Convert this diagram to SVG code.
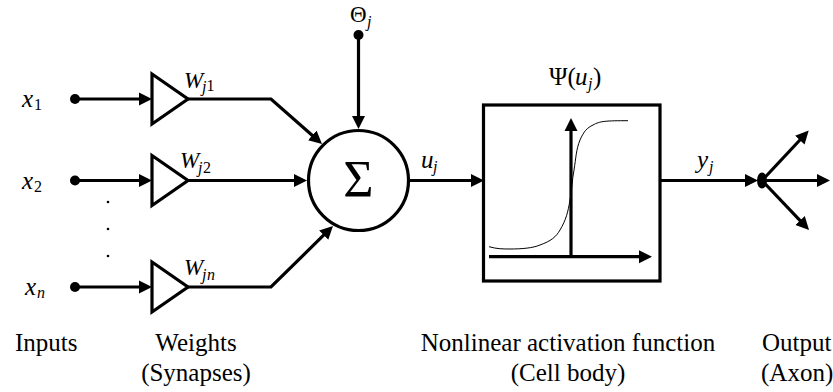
<svg xmlns="http://www.w3.org/2000/svg" width="833" height="392" viewBox="0 0 833 392">
<style>
text{font-family:"Liberation Serif","Times New Roman",serif;font-size:25px;fill:#000}
.i{font-style:italic}
.w{font-size:23px}
.s{font-size:16px}
.m{text-anchor:middle}
.l{fill:none;stroke:#000;stroke-width:3.200;stroke-linejoin:miter}
.n{fill:#fff;stroke:#000;stroke-width:3.200}
</style>
<defs>
<marker id="a" markerUnits="userSpaceOnUse" markerWidth="15" markerHeight="15" refX="7" refY="7.500" orient="auto"><path d="M0 1L13 7.500L0 14z" fill="#000"/></marker>
</defs>
<g id="connectors">
<path class="l" d="M75 99H146" marker-end="url(#a)"/>
<path class="l" d="M75 180.500H146" marker-end="url(#a)"/>
<path class="l" d="M75 287H146" marker-end="url(#a)"/>
<path class="l" d="M188 99H271L317.500 140" marker-end="url(#a)"/>
<path class="l" d="M188 180.500H301" marker-end="url(#a)"/>
<path class="l" d="M188 287H271L328.700 230.200" marker-end="url(#a)"/>
<path class="l" d="M358.500 35V123" marker-end="url(#a)"/>
<path class="l" d="M409 180.500H478" marker-end="url(#a)"/>
<path class="l" d="M660 180.500H752" marker-end="url(#a)"/>
<path class="l" d="M762 180.500H824" marker-end="url(#a)"/>
<path class="l" d="M762 180.500L804.600 135" marker-end="url(#a)"/>
<path class="l" d="M762 180.500L804.900 225.600" marker-end="url(#a)"/>
</g>
<g id="input-1"><circle cx="75" cy="99" r="5"/><text class="i" x="22" y="107">x</text><text class="s" x="34" y="109.500">1</text></g>
<g id="input-2"><circle cx="75" cy="180.500" r="5"/><text class="i" x="22" y="189">x</text><text class="s" x="34" y="191.500">2</text></g>
<g id="input-n"><circle cx="75" cy="287" r="5"/><text class="i" x="25" y="295">x</text><text class="s i" x="37" y="298">n</text></g>
<g id="dots"><circle cx="108" cy="202" r="1.300"/><circle cx="108" cy="229" r="1.300"/><circle cx="108" cy="256" r="1.300"/></g>
<g id="weight-1"><path class="n" d="M152 74L188 99L152 124z"/><text class="i w" x="184" y="88">W</text><text class="s i" x="202" y="92">j</text><text class="s" x="206.500" y="91">1</text></g>
<g id="weight-2"><path class="n" d="M152 155.500L188 180.500L152 205.500z"/><text class="i w" x="180" y="168">W</text><text class="s i" x="198" y="173">j</text><text class="s" x="203" y="172.500">2</text></g>
<g id="weight-n"><path class="n" d="M152 262L188 287L152 312z"/><text class="i w" x="184" y="275">W</text><text class="s i" x="202" y="280">j</text><text class="s i" x="207" y="280">n</text></g>
<g id="sum"><circle class="n" cx="358.500" cy="180.500" r="50"/><text class="m" x="358.500" y="197" style="font-size:52px">Σ</text></g>
<g id="threshold"><circle cx="358.500" cy="35" r="5"/><text x="350" y="22" style="font-size:23px">Θ</text><text class="s i" x="367" y="27">j</text></g>
<text class="i" x="421" y="168">u</text><text class="s i" x="433" y="172">j</text>
<g id="activation">
<rect class="n" x="483.500" y="105" width="176.500" height="176"/>
<path class="l" d="M571 257V124" marker-end="url(#a)"/>
<path class="l" d="M489 256.700H646" marker-end="url(#a)"/>
<path d="M489 246.700C497 249 503 249 510 249C522 249 533 248 540 245C551 241 556 237 560 230C566 220 568 212 570 200C572 190 572 180 574 170C576 158 576 150 580 140C584 131 587 128 593 125C600 121 606 120.700 628 120.700" fill="none" stroke="#000" stroke-width="1"/>
<text x="549" y="85">Ψ(</text><text class="i" x="575" y="85">u</text><text class="s i" x="588" y="89">j</text><text x="593" y="85">)</text>
</g>
<text class="i" x="697" y="168">y</text><text class="s i" x="709" y="172">j</text>
<g id="output"><ellipse cx="762" cy="180.500" rx="5" ry="8"/></g>
<text x="15" y="351">Inputs</text>
<text class="m" x="196" y="351">Weights</text>
<text class="m" x="196" y="381">(Synapses)</text>
<text class="m" x="568" y="351">Nonlinear activation function</text>
<text class="m" x="568" y="381">(Cell body)</text>
<text x="762" y="351">Output</text>
<text x="761" y="381">(Axon)</text>
</svg>
